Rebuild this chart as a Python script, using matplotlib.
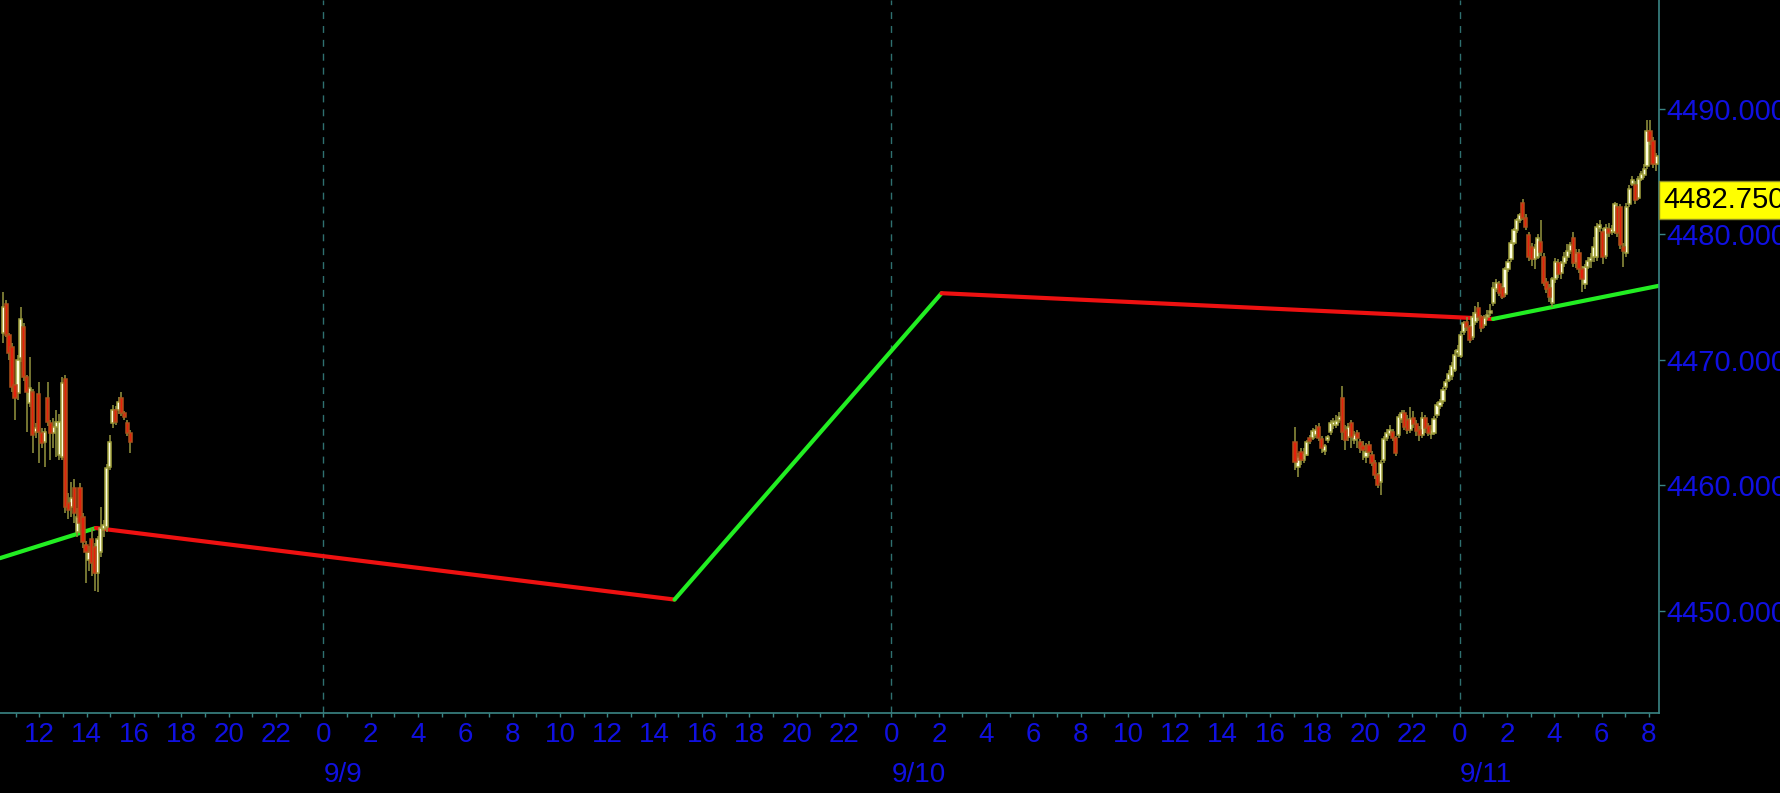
import matplotlib
matplotlib.use("Agg")
import matplotlib.pyplot as plt
import matplotlib.dates as mdates
import matplotlib.transforms as mtransforms
from matplotlib.ticker import FuncFormatter
import numpy as np
import pandas as pd

# 9/8 session (left block of candles)
fri_open = [4472.10, 4474.44, 4471.97, 4471.04, 4467.99, 4467.33, 4470.11, 4472.63, 4468.65, 4466.53,
            4467.46, 4464.28, 4467.25, 4464.20, 4463.48, 4466.93, 4464.94, 4464.14, 4464.67, 4462.42,
            4462.28, 4468.44, 4458.60, 4458.30, 4459.76, 4456.31, 4459.76, 4457.45, 4455.25, 4454.06,
            4455.70, 4455.12, 4453.00, 4454.72, 4456.50, 4456.71, 4461.49, 4464.94, 4466.00, 4466.00,
            4466.93, 4465.73, 4464.94, 4464.20]
fri_high = [4475.42, 4474.76, 4472.10, 4471.30, 4468.10, 4470.40, 4474.23, 4472.90, 4468.80, 4470.25,
            4467.70, 4465.00, 4468.26, 4464.60, 4464.60, 4468.26, 4465.20, 4465.40, 4466.00, 4465.70,
            4468.65, 4468.80, 4459.40, 4460.30, 4460.50, 4458.20, 4460.20, 4457.80, 4455.60, 4455.20,
            4456.60, 4455.40, 4456.00, 4458.30, 4457.20, 4461.70, 4464.00, 4466.40, 4466.30, 4467.00,
            4467.40, 4465.90, 4465.20, 4464.40]
fri_low = [4471.31, 4471.80, 4469.98, 4467.46, 4465.20, 4466.80, 4469.80, 4468.30, 4464.28, 4466.20,
           4462.55, 4463.80, 4461.75, 4463.00, 4461.49, 4464.70, 4462.02, 4463.00, 4462.28, 4462.00,
           4462.00, 4457.80, 4457.30, 4457.50, 4457.00, 4455.90, 4456.20, 4455.00, 4452.20, 4453.20,
           4452.80, 4451.60, 4451.54, 4454.30, 4455.90, 4456.30, 4461.20, 4464.60, 4464.80, 4465.70,
           4465.50, 4465.20, 4463.90, 4462.55]
fri_close = [4474.23, 4471.97, 4470.51, 4467.86, 4466.93, 4469.98, 4473.22, 4468.65, 4467.46, 4467.72,
             4464.01, 4464.54, 4464.28, 4463.40, 4464.28, 4465.07, 4464.14, 4464.67, 4465.07, 4465.07,
             4468.12, 4458.30, 4458.00, 4458.97, 4457.77, 4457.51, 4456.98, 4455.52, 4454.72, 4454.72,
             4453.79, 4453.00, 4455.70, 4456.58, 4456.80, 4461.41, 4463.48, 4466.00, 4465.07, 4466.66,
             4465.73, 4465.47, 4464.14, 4463.48]

# 9/10 evening to 9/11 morning (right block of candles)
sun_open = [4463.48, 4461.49, 4462.68, 4462.02, 4462.42, 4463.74, 4463.8, 4464.0, 4464.67, 4463.7,
            4462.76, 4463.61, 4464.27, 4464.8, 4464.8, 4465.2, 4466.93, 4464.4, 4463.88, 4464.94,
            4463.61, 4464.19, 4463.48, 4463.1, 4462.28, 4463.21, 4462.42, 4461.75, 4460.82, 4460.29,
            4462.02, 4463.74, 4464.1, 4464.27, 4463.74, 4464.01, 4465.26, 4465.73, 4465.2, 4464.4,
            4465.4, 4464.9, 4464.4, 4464.0, 4465.4, 4464.7, 4464.1, 4464.2, 4465.6, 4466.3,
            4466.7, 4467.8, 4468.4, 4468.7, 4469.2, 4470.5, 4470.3, 4472.2, 4473.0, 4472.6,
            4471.8, 4473.0, 4474.1, 4473.4, 4472.8, 4473.4, 4473.7, 4474.5, 4475.6, 4476.0,
            4475.7, 4475.2, 4477.2, 4478.0, 4479.3, 4480.3, 4481.1, 4482.5, 4481.3, 4479.9,
            4479.0, 4478.0, 4478.2, 4479.4, 4478.2, 4476.2, 4475.7, 4474.5, 4476.4, 4477.7,
            4476.9, 4477.7, 4478.2, 4478.7, 4479.7, 4477.7, 4478.5, 4477.2, 4476.0, 4477.4,
            4477.9, 4478.2, 4478.2, 4480.5, 4480.2, 4478.3, 4480.4, 4480.2, 4480.2, 4482.2,
            4482.2, 4479.0, 4478.5, 4482.4, 4484.0, 4483.9, 4482.9, 4484.4, 4484.7, 4485.4,
            4488.2, 4487.4, 4485.6]
sun_high = [4464.67, 4462.6, 4463.0, 4463.0, 4463.6, 4464.0, 4464.6, 4464.8, 4465.0, 4463.9,
            4463.3, 4464.0, 4465.2, 4465.4, 4465.6, 4465.8, 4467.9, 4464.8, 4465.0, 4465.2,
            4464.3, 4464.4, 4463.7, 4463.5, 4463.4, 4463.5, 4462.7, 4462.0, 4461.0, 4462.0,
            4463.9, 4464.5, 4464.8, 4464.5, 4463.9, 4465.7, 4466.0, 4466.0, 4465.6, 4466.2,
            4465.9, 4465.2, 4464.7, 4465.8, 4465.6, 4465.0, 4464.8, 4465.5, 4466.6, 4466.9,
            4467.8, 4468.5, 4469.2, 4469.8, 4470.8, 4471.2, 4472.3, 4473.1, 4473.4, 4472.8,
            4473.8, 4474.3, 4474.6, 4473.6, 4473.6, 4474.0, 4474.4, 4476.2, 4476.4, 4476.3,
            4475.9, 4477.4, 4478.0, 4479.5, 4480.5, 4481.3, 4481.7, 4482.8, 4481.6, 4480.2,
            4479.3, 4479.2, 4480.0, 4481.1, 4478.5, 4476.5, 4476.0, 4476.6, 4478.1, 4478.0,
            4477.9, 4478.6, 4479.2, 4479.4, 4480.2, 4478.8, 4478.8, 4477.5, 4477.6, 4478.2,
            4478.5, 4479.8, 4480.9, 4481.1, 4480.5, 4480.8, 4480.9, 4480.7, 4482.6, 4482.5,
            4482.4, 4479.3, 4482.5, 4483.9, 4484.6, 4484.2, 4484.6, 4485.0, 4485.6, 4489.1,
            4489.1, 4487.7, 4486.5]
sun_low = [4461.22, 4460.69, 4461.6, 4461.8, 4462.3, 4463.3, 4463.6, 4463.8, 4463.5, 4462.6,
           4462.4, 4463.4, 4464.0, 4464.5, 4464.6, 4465.0, 4463.6, 4462.8, 4463.5, 4463.0,
           4463.3, 4463.0, 4462.6, 4462.0, 4461.8, 4462.3, 4461.5, 4460.5, 4459.8, 4459.23,
           4461.8, 4463.5, 4463.9, 4463.5, 4462.3, 4463.8, 4465.0, 4464.4, 4464.1, 4464.2,
           4464.6, 4463.9, 4463.5, 4463.8, 4464.2, 4463.9, 4463.7, 4464.0, 4465.4, 4466.1,
           4466.5, 4467.6, 4468.2, 4468.4, 4469.0, 4470.2, 4470.1, 4472.0, 4472.3, 4471.3,
           4471.6, 4472.8, 4473.1, 4472.2, 4472.5, 4473.2, 4473.5, 4474.3, 4475.4, 4475.1,
           4474.8, 4475.0, 4477.0, 4477.8, 4479.1, 4480.1, 4480.9, 4481.1, 4480.3, 4477.9,
           4477.5, 4477.2, 4478.0, 4478.3, 4475.9, 4475.3, 4474.6, 4474.2, 4476.1, 4476.5,
           4476.4, 4477.4, 4477.9, 4478.4, 4477.4, 4477.3, 4476.9, 4475.4, 4475.6, 4477.2,
           4477.3, 4477.8, 4477.9, 4480.2, 4477.6, 4478.0, 4479.8, 4479.9, 4480.0, 4479.8,
           4478.8, 4477.4, 4478.2, 4482.2, 4483.8, 4482.4, 4482.7, 4484.2, 4484.5, 4485.2,
           4487.1, 4485.3, 4485.0]
sun_close = [4461.89, 4462.28, 4462.02, 4462.55, 4463.48, 4463.56, 4464.3, 4464.4, 4463.74, 4462.95,
             4463.13, 4463.88, 4464.94, 4465.07, 4465.12, 4465.47, 4464.27, 4463.61, 4464.67, 4463.88,
             4464.01, 4463.74, 4462.95, 4462.8, 4462.68, 4462.68, 4461.75, 4460.82, 4460.03, 4461.75,
             4463.68, 4464.19, 4464.41, 4463.74, 4462.55, 4465.47, 4465.73, 4464.67, 4464.4, 4465.3,
             4464.9, 4464.3, 4464.0, 4465.4, 4464.6, 4464.2, 4464.4, 4465.3, 4466.4, 4466.6,
             4467.6, 4468.2, 4468.9, 4469.5, 4470.4, 4470.8, 4472.0, 4472.9, 4472.6, 4471.6,
             4473.4, 4473.7, 4473.4, 4472.5, 4473.3, 4473.6, 4473.9, 4475.7, 4476.1, 4475.3,
             4475.0, 4477.2, 4477.8, 4479.3, 4480.3, 4481.1, 4481.5, 4481.3, 4480.6, 4478.2,
             4478.0, 4478.9, 4479.7, 4478.6, 4476.1, 4475.6, 4475.0, 4476.4, 4477.8, 4476.8,
             4477.7, 4478.2, 4478.7, 4479.1, 4477.7, 4478.5, 4477.2, 4476.4, 4477.4, 4477.9,
             4478.1, 4479.0, 4480.6, 4480.7, 4478.2, 4480.5, 4480.1, 4480.4, 4482.4, 4480.1,
             4479.1, 4478.7, 4482.2, 4483.6, 4484.3, 4482.7, 4484.4, 4484.8, 4485.2, 4488.2,
             4487.4, 4485.6, 4486.2]

fri_times = pd.date_range("2023-09-08 10:28", periods=len(fri_close), freq="450s")
sun_times = pd.date_range("2023-09-10 17:03", periods=len(sun_close), freq="450s")

# zigzag line pivots
zz_times = pd.to_datetime(["2023-09-08 10:20", "2023-09-08 14:23", "2023-09-09 14:50",
                           "2023-09-10 02:07", "2023-09-11 01:25", "2023-09-11 08:27"])
zz_values = [4454.2, 4456.6, 4450.9, 4475.3, 4473.25, 4475.9]

y_ticks = [4450, 4460, 4470, 4480, 4490]
last_label = 4482.75
day_labels = ["9/9", "9/10", "9/11"]
day_starts = pd.to_datetime(["2023-09-09", "2023-09-10", "2023-09-11"])

BLUE = "#1010e0"
TEAL = "#3a8585"
UP = "#ffffe2"
UP_EDGE = "#a0a03c"
DOWN = "#e4200c"
DOWN_EDGE = "#b0501a"
WICK = "#8a8a3a"

plt.rcParams["font.family"] = ["Liberation Sans", "DejaVu Sans"]

fig = plt.figure(figsize=(17.8, 7.93), dpi=100, facecolor="black")
ax = fig.add_axes([0, 0.1014, 0.9323, 0.8986])
ax.set_facecolor("black")


def draw_candles(times, o, h, l, c):
    x = mdates.date2num(times)
    o, h, l, c = map(np.asarray, (o, h, l, c))
    up = c >= o
    w = 8.0 / 1440
    ax.vlines(x, l, h, color=WICK, lw=1.2, zorder=3)
    bottom = np.minimum(o, c)
    height = np.maximum(np.abs(c - o), 0.18)
    ax.bar(x[up], height[up], w, bottom[up], color=UP, edgecolor=UP_EDGE, lw=1.1, zorder=4)
    ax.bar(x[~up], height[~up], w, bottom[~up], color=DOWN, edgecolor=DOWN_EDGE, lw=1.1, zorder=4)


draw_candles(fri_times, fri_open, fri_high, fri_low, fri_close)
draw_candles(sun_times, sun_open, sun_high, sun_low, sun_close)

# zigzag: green for rising legs, red for falling legs
for i in range(len(zz_values) - 1):
    col = "#22ee22" if zz_values[i + 1] > zz_values[i] else "#ee1111"
    ax.plot(zz_times[i:i + 2], zz_values[i:i + 2], color=col, lw=3.0,
            solid_capstyle="round", zorder=2)

for d in day_starts:
    ax.axvline(d, color="#2e7070", lw=1, linestyle=(0, (5, 5)), zorder=1)

ax.set_xlim(pd.Timestamp("2023-09-08 10:20"), pd.Timestamp("2023-09-11 08:27"))
ax.set_ylim(4441.9, 4498.65)

ax.xaxis.set_major_locator(mdates.HourLocator(byhour=range(0, 24, 2)))
ax.xaxis.set_minor_locator(mdates.HourLocator())
ax.xaxis.set_major_formatter(FuncFormatter(lambda v, p: str(mdates.num2date(v).hour)))

ax.yaxis.tick_right()
ax.set_yticks(y_ticks)
ax.yaxis.set_major_formatter(FuncFormatter(lambda v, p: "%.4f" % v))

ax.tick_params(axis="x", which="both", colors=TEAL, length=3, width=1,
               labelcolor=BLUE, labelsize=20, pad=4)
ax.tick_params(axis="y", colors=TEAL, length=4, width=1,
               labelcolor=BLUE, labelsize=21, pad=0.8)

for s in ["left", "top"]:
    ax.spines[s].set_visible(False)
for s in ["bottom", "right"]:
    ax.spines[s].set_color(TEAL)
    ax.spines[s].set_linewidth(1.2)

trans = mtransforms.blended_transform_factory(ax.transData, ax.transAxes)
for d, lab in zip(day_starts, day_labels):
    ax.text(mdates.date2num(d), -0.0876, lab, transform=trans, ha="left", va="center",
            color=BLUE, fontsize=20, clip_on=False)

ytrans = mtransforms.blended_transform_factory(ax.transAxes, ax.transData)
ax.annotate("%.4f" % last_label, xy=(1.0, last_label), xycoords=ytrans,
            xytext=(3.0, 0), textcoords="offset points", ha="left", va="center",
            fontsize=21, color="black", annotation_clip=False, zorder=10,
            bbox=dict(boxstyle="square,pad=0.17", fc="#ffff00", ec="#8c8c28", lw=1))

fig.savefig("out.png", dpi=100, facecolor="black")
